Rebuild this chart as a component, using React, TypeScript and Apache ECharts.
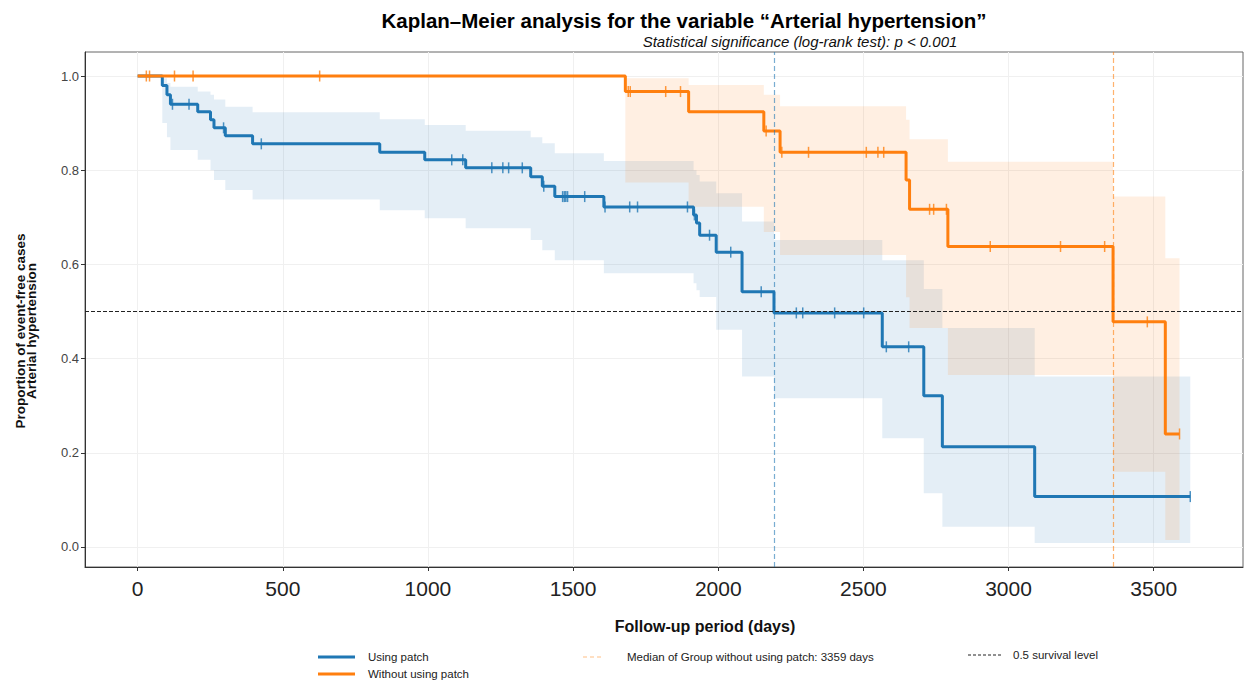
import React, { useEffect, useRef } from "react";
import * as echarts from "echarts";

// ---------- data ----------
const xTickValues = [0, 500, 1000, 1500, 2000, 2500, 3000, 3500];
const yTickValues = [0, 0.2, 0.4, 0.6, 0.8, 1.0];

// Group "Using patch"
const blueTimes = [0, 85, 101, 113, 207, 251, 263, 302, 396, 834, 989, 1130, 1354, 1394, 1437, 1606, 1915, 1925, 1936, 1993, 2082, 2192, 2565, 2708, 2772, 3090, 3626];
const blueSurv = [1.0, 0.98, 0.96, 0.94, 0.924, 0.907, 0.89, 0.873, 0.856, 0.838, 0.822, 0.805, 0.786, 0.766, 0.744, 0.722, 0.705, 0.688, 0.662, 0.626, 0.542, 0.497, 0.425, 0.321, 0.213, 0.107, 0.107];
const blueLower = [1.0, 0.9, 0.87, 0.843, 0.822, 0.8, 0.779, 0.758, 0.738, 0.715, 0.698, 0.677, 0.652, 0.63, 0.609, 0.581, 0.56, 0.545, 0.531, 0.461, 0.362, 0.316, 0.231, 0.114, 0.043, 0.0085, 0.0085];
const blueUpper = [1.0, 0.995, 0.985, 0.977, 0.967, 0.96, 0.95, 0.935, 0.923, 0.908, 0.896, 0.884, 0.87, 0.857, 0.836, 0.8195, 0.8, 0.79, 0.776, 0.751, 0.691, 0.652, 0.609, 0.548, 0.465, 0.362, 0.362];
const blueCensored = [120, 177, 296, 426, 1082, 1120, 1220, 1258, 1278, 1325, 1399, 1464, 1470, 1475, 1481, 1540, 1610, 1695, 1722, 1894, 1918, 1970, 2043, 2148, 2269, 2291, 2401, 2501, 2579, 2656, 3626];

// Group "Without using patch"
const orangeTimes = [0, 1680, 1898, 2157, 2213, 2647, 2659, 2791, 3360, 3540, 3589];
const orangeSurv = [1.0, 0.967, 0.924, 0.883, 0.838, 0.779, 0.717, 0.638, 0.478, 0.24, 0.24];
const orangeLower = [1.0, 0.774, 0.7225, 0.669, 0.62, 0.53, 0.465, 0.365, 0.16, 0.015, 0.015];
const orangeUpper = [1.0, 0.995, 0.981, 0.96, 0.936, 0.907, 0.866, 0.818, 0.744, 0.613, 0.613];
const orangeCensored = [30, 41, 127, 191, 627, 1690, 1697, 1819, 1870, 2165, 2219, 2311, 2510, 2550, 2570, 2728, 2742, 2786, 2937, 3179, 3331, 3478, 3589];

const blueMedian = 2192;
const orangeMedian = 3359;
const survivalLevel = 0.5;

const seriesNames = ["Using patch", "Without using patch"];

// ---------- helpers ----------
const BLUE = "#1f77b4";
const ORANGE = "#ff7f0e";
const FONT = "'Liberation Sans', Arial, Helvetica, sans-serif";

function stepValue(times: number[], surv: number[], t: number) {
  let v = surv[0];
  for (let i = 0; i < times.length; i++) {
    if (times[i] <= t) v = surv[i];
    else break;
  }
  return v;
}

function bandSeries(times: number[], lower: number[], upper: number[], fill: string) {
  return {
    type: "custom",
    coordinateSystem: "cartesian2d",
    silent: true,
    clip: true,
    z: 1,
    data: [[times[0], upper[0]]],
    renderItem: (_params: any, api: any) => {
      const pts: number[][] = [];
      for (let i = 0; i < times.length - 1; i++) {
        pts.push(api.coord([times[i], upper[i]]));
        pts.push(api.coord([times[i + 1], upper[i]]));
      }
      for (let i = times.length - 2; i >= 0; i--) {
        pts.push(api.coord([times[i + 1], lower[i]]));
        pts.push(api.coord([times[i], lower[i]]));
      }
      return { type: "polygon", shape: { points: pts }, style: { fill } };
    },
  };
}

export default function App() {
  const ref = useRef<HTMLDivElement>(null);

  useEffect(() => {
    if (!ref.current) return;
    const chart = echarts.init(ref.current, null, { renderer: "svg" });

    const blueLine = blueTimes.map((t, i) => [t, blueSurv[i]]);
    const orangeLine = orangeTimes.map((t, i) => [t, orangeSurv[i]]);
    const blueCens = blueCensored.map((t) => [t, stepValue(blueTimes, blueSurv, t)]);
    const orangeCens = orangeCensored.map((t) => [t, stepValue(orangeTimes, orangeSurv, t)]);

    const option: any = {
      animation: false,
      backgroundColor: "#ffffff",
      textStyle: { fontFamily: FONT },
      grid: {
        left: 85,
        top: 52,
        width: 1158,
        height: 515,
        show: true,
        borderColor: "#666",
        borderWidth: 1,
        backgroundColor: "transparent",
      },
      xAxis: {
        type: "value",
        min: -181.3,
        max: 3807.6,
        splitNumber: 8,
        axisLine: { show: true, onZero: false, lineStyle: { color: "#333", width: 1 } },
        axisTick: { show: true, length: 4, customValues: xTickValues, lineStyle: { color: "#333" } },
        axisLabel: {
          show: true,
          customValues: xTickValues,
          fontSize: 21,
          color: "#222",
          margin: 11,
          fontFamily: FONT,
          formatter: (v: number) => String(Math.round(v)),
        },
        splitLine: { show: true, lineStyle: { color: "#f0f0f0", width: 1 } },
      },
      yAxis: {
        type: "value",
        min: -0.0425,
        max: 1.051,
        splitNumber: 5,
        axisLine: { show: true, onZero: false, lineStyle: { color: "#333", width: 1 } },
        axisTick: { show: true, length: 4, customValues: yTickValues, lineStyle: { color: "#333" } },
        axisLabel: {
          show: true,
          customValues: yTickValues,
          fontSize: 13,
          color: "#444",
          margin: 6,
          fontFamily: FONT,
          formatter: (v: number) => v.toFixed(1),
        },
        splitLine: { show: true, lineStyle: { color: "#f0f0f0", width: 1 } },
      },
      series: [
        bandSeries(blueTimes, blueLower, blueUpper, "rgba(31,119,180,0.12)"),
        bandSeries(orangeTimes, orangeLower, orangeUpper, "rgba(255,127,14,0.12)"),
        {
          name: seriesNames[0],
          type: "line",
          step: "end",
          data: blueLine,
          showSymbol: false,
          symbol: "none",
          z: 3,
          lineStyle: { color: BLUE, width: 3 },
          itemStyle: { color: BLUE },
        },
        {
          name: seriesNames[1],
          type: "line",
          step: "end",
          data: orangeLine,
          showSymbol: false,
          symbol: "none",
          z: 4,
          lineStyle: { color: ORANGE, width: 3 },
          itemStyle: { color: ORANGE },
        },
        {
          name: seriesNames[0] + " censored",
          type: "scatter",
          data: blueCens,
          symbol: "rect",
          symbolSize: [1.5, 11],
          z: 5,
          itemStyle: { color: BLUE },
        },
        {
          name: seriesNames[1] + " censored",
          type: "scatter",
          data: orangeCens,
          symbol: "rect",
          symbolSize: [1.5, 11],
          z: 5,
          itemStyle: { color: ORANGE },
          markLine: {
            silent: true,
            symbol: ["none", "none"],
            label: { show: false },
            z: 6,
            data: [
              { xAxis: blueMedian, lineStyle: { color: BLUE, opacity: 0.6, type: [5, 3], width: 1.2 } },
              { xAxis: orangeMedian, lineStyle: { color: ORANGE, opacity: 0.6, type: [5, 3], width: 1.2 } },
              { yAxis: survivalLevel, lineStyle: { color: "#222", opacity: 1, type: [4, 2], width: 1.1 } },
            ],
          },
        },
      ],
      graphic: [
        {
          type: "text",
          x: 684,
          y: 20,
          style: {
            text: "Kaplan–Meier analysis for the variable “Arterial hypertension”",
            fontSize: 20.5,
            fontWeight: "bold",
            fontFamily: FONT,
            fill: "#000",
            textAlign: "center",
            textVerticalAlign: "middle",
          },
        },
        {
          type: "text",
          x: 800,
          y: 41,
          style: {
            text: "Statistical significance (log-rank test): p < 0.001",
            fontSize: 15,
            fontStyle: "italic",
            fontFamily: FONT,
            fill: "#111",
            textAlign: "center",
            textVerticalAlign: "middle",
          },
        },
        {
          type: "text",
          x: 20,
          y: 331,
          rotation: Math.PI / 2,
          style: {
            text: "Proportion of event-free cases",
            fontSize: 13.5,
            fontWeight: "bold",
            fontFamily: FONT,
            fill: "#111",
            textAlign: "center",
            textVerticalAlign: "middle",
          },
        },
        {
          type: "text",
          x: 31,
          y: 331,
          rotation: Math.PI / 2,
          style: {
            text: "Arterial hypertension",
            fontSize: 13.5,
            fontWeight: "bold",
            fontFamily: FONT,
            fill: "#111",
            textAlign: "center",
            textVerticalAlign: "middle",
          },
        },
        {
          type: "text",
          x: 705,
          y: 626,
          style: {
            text: "Follow-up period (days)",
            fontSize: 16,
            fontWeight: "bold",
            fontFamily: FONT,
            fill: "#111",
            textAlign: "center",
            textVerticalAlign: "middle",
          },
        },
        // legend
        { type: "line", shape: { x1: 318, y1: 657, x2: 355, y2: 657 }, style: { stroke: BLUE, lineWidth: 3 } },
        {
          type: "text",
          x: 368,
          y: 657,
          style: { text: seriesNames[0], fontSize: 11.5, fontFamily: FONT, fill: "#222", textVerticalAlign: "middle" },
        },
        { type: "line", shape: { x1: 318, y1: 674, x2: 355, y2: 674 }, style: { stroke: ORANGE, lineWidth: 3 } },
        {
          type: "text",
          x: 368,
          y: 674,
          style: { text: seriesNames[1], fontSize: 11.5, fontFamily: FONT, fill: "#222", textVerticalAlign: "middle" },
        },
        {
          type: "line",
          shape: { x1: 583, y1: 657, x2: 604, y2: 657 },
          style: { stroke: ORANGE, opacity: 0.5, lineWidth: 1.2, lineDash: [4, 3] },
        },
        {
          type: "text",
          x: 627,
          y: 657,
          style: {
            text: "Median of Group without using patch: " + orangeMedian + " days",
            fontSize: 11.5,
            fontFamily: FONT,
            fill: "#222",
            textVerticalAlign: "middle",
          },
        },
        {
          type: "line",
          shape: { x1: 968, y1: 655, x2: 1003, y2: 655 },
          style: { stroke: "#222", lineWidth: 1, lineDash: [3, 2] },
        },
        {
          type: "text",
          x: 1013,
          y: 655,
          style: {
            text: survivalLevel + " survival level",
            fontSize: 11.5,
            fontFamily: FONT,
            fill: "#222",
            textVerticalAlign: "middle",
          },
        },
      ],
    };

    chart.setOption(option);
    return () => chart.dispose();
  }, []);

  return (
    <div
      ref={ref}
      style={{ position: "absolute", left: 0, top: 0, width: 1245, height: 681, background: "#fff" }}
    />
  );
}
